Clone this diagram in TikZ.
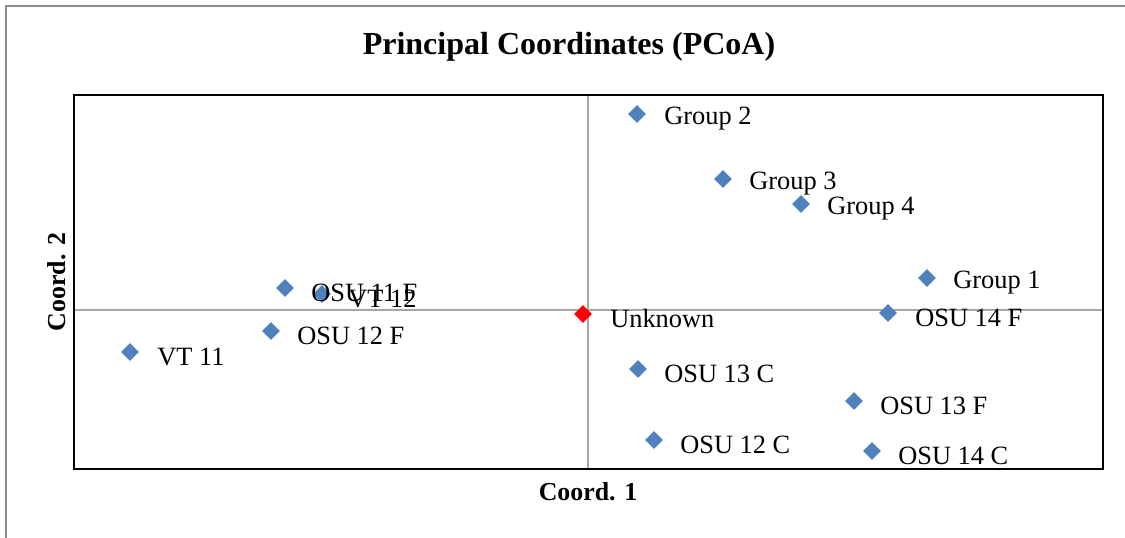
\documentclass[tikz,border=0pt]{standalone}
\usepackage{fontspec}
\setmainfont{Liberation Serif}
\usetikzlibrary{shapes.geometric}
\definecolor{mkblue}{HTML}{4F81BD}
\definecolor{axgray}{HTML}{A6A6A6}
\definecolor{outgray}{HTML}{8C8C8C}
\begin{document}
\begin{tikzpicture}[x=0.75pt,y=-0.75pt,
  pt/.style={diamond,fill=mkblue,draw=none,inner sep=0pt,minimum size=13.5pt},
  ptred/.style={diamond,fill=red,draw=none,inner sep=0pt,minimum size=13.5pt},
  lab/.style={anchor=west,inner sep=0pt,yshift=-2.2pt,font=\fontsize{19.8}{22}\selectfont},
  axlab/.style={inner sep=0pt,font=\fontsize{19.4}{22}\selectfont\bfseries}]
\useasboundingbox (0,0) rectangle (1125,537);
% outer chart frame (only left/top visible)
\draw[outgray,line width=1.5pt] (6,560) -- (6,6) -- (1140,6);
% title
\node[inner sep=0pt,font=\fontsize{24}{28}\selectfont\bfseries] (title) at (569,47) {Principal Coordinates (PCoA)};
% axes
\coordinate (xl) at (74,310); \coordinate (xr) at (1103,310);
\coordinate (yt) at (588,95); \coordinate (yb) at (588,469);
\draw[axgray,line width=1.1pt] (xl) -- (xr);
\draw[axgray,line width=1.1pt] (yt) -- (yb);
% plot frame
\draw[black,line width=1.6pt] (74,95) rectangle (1103,469);
% axis labels
\node[axlab] (ax1) at (588,492) {Coord. 1};
\node[axlab,rotate=90] (ax2) at (57,282) {Coord. 2};
% points
\node[pt] (g2) at (637,114) {};
\node[lab] at (664,116) {Group 2};
\node[pt] (g3) at (723,179) {};
\node[lab] at (749,181) {Group 3};
\node[pt] (g4) at (801,204) {};
\node[lab] at (827,206) {Group 4};
\node[pt] (g1) at (927,278) {};
\node[lab] at (953,280) {Group 1};
\node[pt] (o14f) at (888,313) {};
\node[lab] at (915,315) {OSU 14 F};
\node[ptred] (unk) at (583,314) {};
\node[lab] at (610,316) {Unknown};
\node[pt] (o11f) at (285,288) {};
\node[pt] (vt12) at (322,294) {};
\node[lab] at (311,290) {OSU 11 F};
\node[lab] at (348,296) {VT 12};
\node[pt] (o12f) at (271,331) {};
\node[lab] at (297,333) {OSU 12 F};
\node[pt] (vt11) at (130,352) {};
\node[lab] at (157,354) {VT 11};
\node[pt] (o13c) at (638,369) {};
\node[lab] at (664,371) {OSU 13 C};
\node[pt] (o13f) at (854,401) {};
\node[lab] at (880,403) {OSU 13 F};
\node[pt] (o12c) at (654,440) {};
\node[lab] at (680,442) {OSU 12 C};
\node[pt] (o14c) at (872,451) {};
\node[lab] at (898,453) {OSU 14 C};
\end{tikzpicture}
\end{document}
